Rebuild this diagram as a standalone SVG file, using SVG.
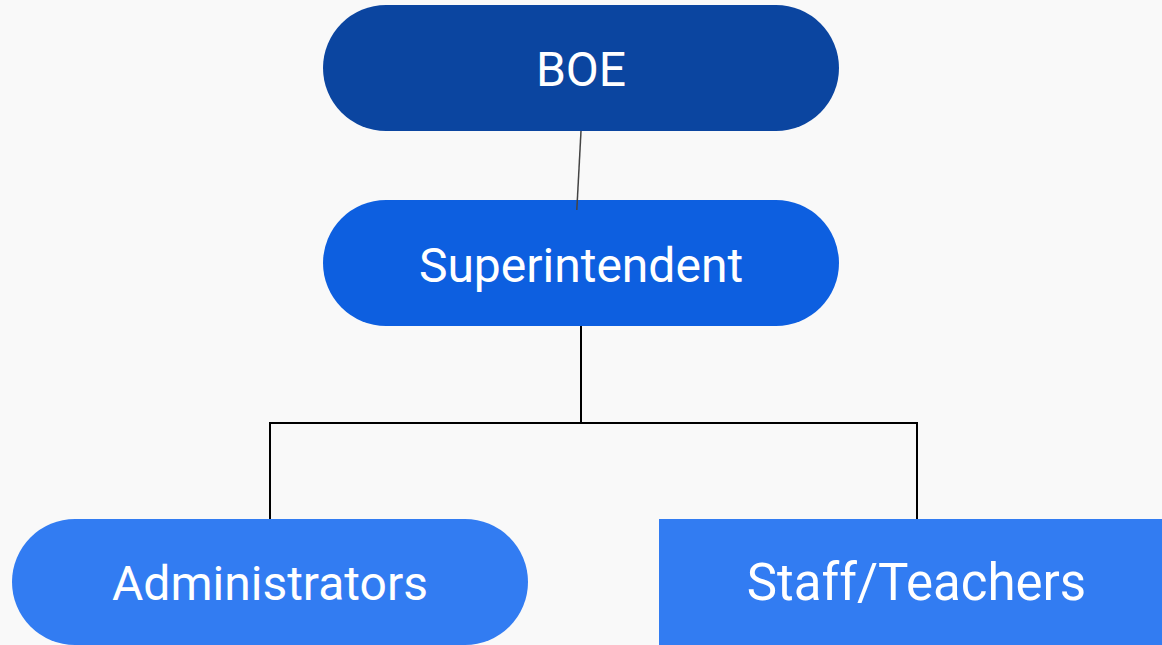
<svg xmlns="http://www.w3.org/2000/svg" width="1162" height="645" viewBox="0 0 1162 645">
<style>
.t{font-family:Roboto,"Liberation Sans",sans-serif;font-size:48px;fill:#ffffff;text-anchor:middle}
.c{fill:none;stroke:#000000;stroke-width:2}
</style>
<rect width="1162" height="645" fill="#f9f9f9"/>
<g id="boe"><rect x="323" y="5" width="516" height="126" rx="63" fill="#0b45a0"/><text class="t" x="581" y="86">BOE</text></g>
<g id="superintendent"><rect x="323" y="200" width="516" height="126" rx="63" fill="#0d5fe0"/><text class="t" x="581" y="282">Superintendent</text></g>
<g id="administrators"><rect x="12" y="519" width="516" height="126" rx="63" fill="#327cf2"/><text class="t" x="270" y="600">Administrators</text></g>
<g id="staff"><rect x="659" y="519" width="510" height="140" fill="#327cf2"/><text class="t" x="916.5" y="600" style="font-size:51px">Staff/Teachers</text></g>
<g id="connectors">
<line x1="581" y1="131" x2="576.8" y2="210" stroke="#444444" stroke-width="1.5"/>
<path class="c" d="M581 326V423M270 519V423H917V519"/>
</g>
</svg>
